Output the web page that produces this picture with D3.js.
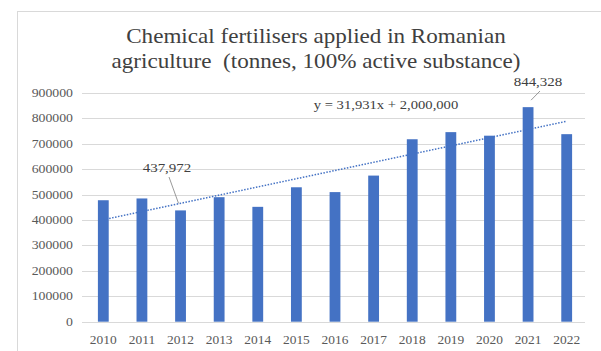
<!DOCTYPE html>
<html>
<head>
<meta charset="utf-8">
<script src="https://cdn.jsdelivr.net/npm/d3@7"></script>
<style>
  body { margin: 0; background: #fff; }
</style>
</head>
<body>
<div id="my_dataviz"></div>
<script>
var width = 601
var height = 351
var serif = "'Liberation Serif', 'Times New Roman', serif"

// data
var years = ["2010", "2011", "2012", "2013", "2014", "2015", "2016", "2017", "2018", "2019", "2020", "2021", "2022"]
var tonnes = [478000, 485000, 437972, 490000, 452000, 529000, 510000, 575000, 718000, 746000, 732000, 844328, 738000]
var yTicks = [0, 100000, 200000, 300000, 400000, 500000, 600000, 700000, 800000, 900000]
var titleLines = ["Chemical fertilisers applied in Romanian", "agriculture  (tonnes, 100% active substance)"]
var trendLabel = "y = 31,931x + 2,000,000"
var callouts = [{ year: "2012", text: "437,972" }, { year: "2021", text: "844,328" }]

var svg = d3.select("#my_dataviz")
    .append("svg")
    .attr("width", width)
    .attr("height", height)
    .style("font-family", serif)

// text in the picture is a bit stretched sideways, so squeeze it back with scaleX
function label(g, tx, ty, sx, str, size, anchor, color) {
    return g.append("text")
        .attr("transform", "translate(" + tx + "," + ty + ") scale(" + sx + ",1)")
        .attr("text-anchor", anchor)
        .attr("font-size", size)
        .attr("font-family", serif)
        .attr("fill", color)
        .attr("xml:space", "preserve")
        .style("white-space", "pre")
        .text(str)
}

// chart frame
svg.append("rect")
    .attr("x", 17.5).attr("y", 11.5)
    .attr("width", 600).attr("height", 400)
    .attr("fill", "white")
    .attr("stroke", "#d9d9d9")

// scales
var x = d3.scaleBand()
    .domain(years)
    .range([84, 586])
    .paddingInner(0.72)
    .paddingOuter(0.36)

var y = d3.scaleLinear()
    .domain([0, 900000])
    .range([321.7, 93])

// gridlines
svg.append("g")
    .selectAll("line")
    .data(yTicks)
    .enter()
    .append("line")
    .attr("x1", 82).attr("x2", 585)
    .attr("y1", function (d) { return Math.round(y(d)) + 0.5 })
    .attr("y2", function (d) { return Math.round(y(d)) + 0.5 })
    .attr("stroke", "#d9d9d9")
    .attr("stroke-width", 1)

// y axis labels
var gy = svg.append("g")
yTicks.forEach(function (d) {
    label(gy, 73, y(d) + 4, 1.2, String(d), 11.5, "end", "#595959")
})

// x axis labels
var gx = svg.append("g")
years.forEach(function (d) {
    label(gx, x(d) + x.bandwidth() / 2, 344, 1.12, d, 12, "middle", "#595959")
})

// bars
svg.append("g")
    .selectAll("rect")
    .data(tonnes)
    .enter()
    .append("rect")
    .attr("x", function (d, i) { return x(years[i]) })
    .attr("y", function (d) { return y(d) })
    .attr("width", x.bandwidth())
    .attr("height", function (d) { return y(0) - y(d) })
    .attr("fill", "#4472c4")

// linear trendline (least squares over x = 1..n)
var n = tonnes.length
var mx = d3.mean(tonnes, function (d, i) { return i + 1 })
var my = d3.mean(tonnes)
var sxy = d3.sum(tonnes, function (d, i) { return (i + 1 - mx) * (d - my) })
var sxx = d3.sum(tonnes, function (d, i) { return (i + 1 - mx) * (i + 1 - mx) })
var slope = sxy / sxx
var icpt = my - slope * mx
var trend = [1, n].map(function (k) { return [years[k - 1], icpt + slope * k] })

svg.append("path")
    .datum(trend)
    .attr("fill", "none")
    .attr("stroke", "#4472c4")
    .attr("stroke-width", 1.5)
    .attr("stroke-dasharray", "1.5,1.5")
    .attr("d", d3.line()
        .x(function (d) { return x(d[0]) + x.bandwidth() / 2 })
        .y(function (d) { return y(d[1]) })
    )

label(svg, 386, 109, 1.22, trendLabel, 12, "middle", "#404040")

// data callouts with leader lines
callouts.forEach(function (c) {
    var i = years.indexOf(c.year)
    var bx = x(c.year) + x.bandwidth() / 2
    var by = y(tonnes[i])
    var lx = c.year == "2012" ? 167 : 538
    var ly = c.year == "2012" ? 172 : 86
    svg.append("line")
        .attr("x1", lx + 2).attr("y1", ly + 5)
        .attr("x2", c.year == "2012" ? bx - 2 : bx + 3).attr("y2", by - 7)
        .attr("stroke", "#7f7f7f")
        .attr("stroke-width", 0.8)
    label(svg, lx, ly, 1.2, c.text, 12.5, "middle", "#404040")
})

// title
titleLines.forEach(function (d, i) {
    label(svg, 316, 43 + i * 25, 1.1, d, 21, "middle", "#404040")
})
</script>
</body>
</html>
